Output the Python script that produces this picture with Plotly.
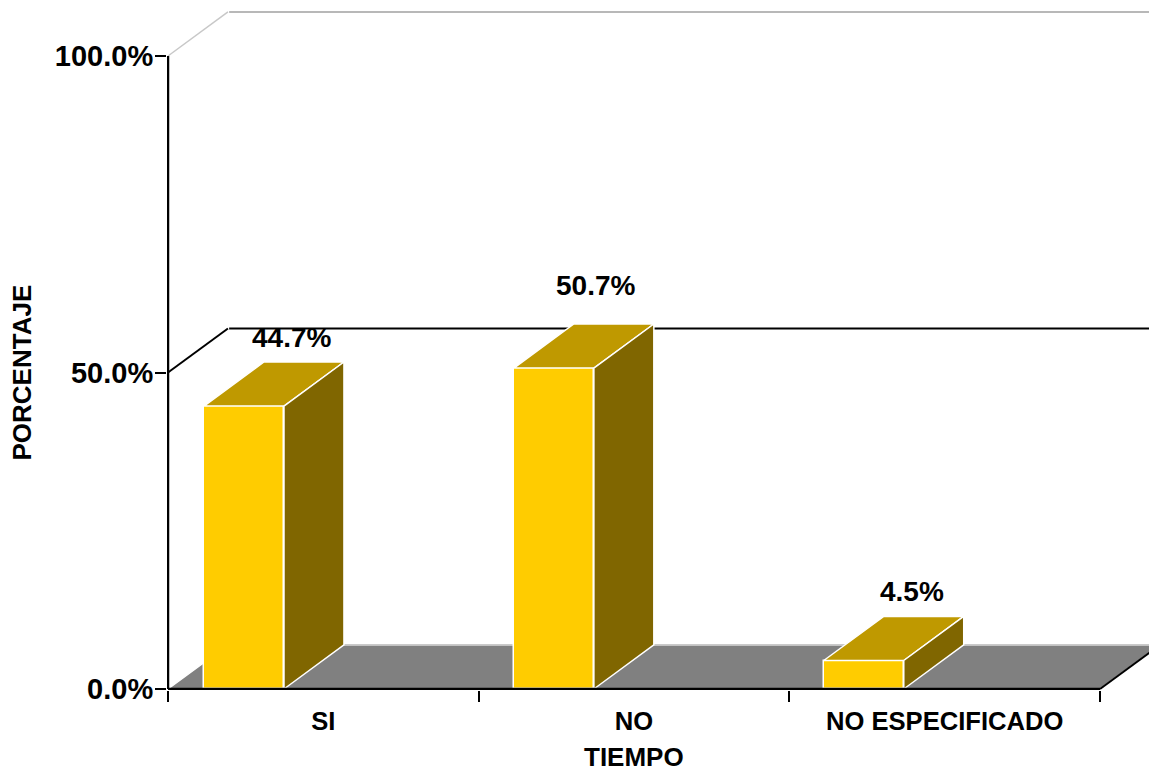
import plotly.graph_objects as go

categories = ["SI", "NO", "NO ESPECIFICADO"]
percentages = [44.7, 50.7, 4.5]
y_ticks = [0, 50, 100]
y_tick_labels = ["0.0%", "50.0%", "100.0%"]

# Pseudo-3D projection expressed in axis units
PX_PER_CATEGORY = 310.67
PX_PER_PERCENT = 6.33
DEPTH_X = 0.193
DEPTH_Y = 6.96
BAR_WIDTH = 0.2575
BAR_OFFSET = 0.2446
BAR_SPACING = 0.9975

FRONT = "#FFCC00"
TOP = "#BF9900"
SIDE = "#806600"
FLOOR = "#808080"
FONT = "Liberation Sans"

# The plot area starts one pixel past the axes so their strokes stay whole
X_RANGE = [-1 / PX_PER_CATEGORY, 981 / PX_PER_CATEGORY]
Y_RANGE = [-1 / PX_PER_PERCENT, 689 / PX_PER_PERCENT]
X_MAX = X_RANGE[1]

fig = go.Figure()


def polygon(xs, ys, color, zorder, line="white"):
    fig.add_trace(go.Scatter(
        x=xs + xs[:1], y=ys + ys[:1], mode="lines", fill="toself",
        fillcolor=color, line=dict(color=line, width=1.5),
        hoverinfo="skip", showlegend=False, zorder=zorder,
    ))


def segment(xs, ys, color, width, zorder):
    fig.add_trace(go.Scatter(
        x=xs, y=ys, mode="lines", line=dict(color=color, width=width),
        hoverinfo="skip", showlegend=False, zorder=zorder,
    ))


n = len(categories)

# Floor of the chart box
polygon([0, n, n + DEPTH_X, DEPTH_X], [0, 0, DEPTH_Y, DEPTH_Y], FLOOR, 0)
segment([DEPTH_X, X_MAX], [DEPTH_Y, DEPTH_Y], "#b8b8b8", 1.5, 1)

# Gridlines folded along the side wall and the back wall
segment([0, DEPTH_X], [100, 100 + DEPTH_Y], "#c8c8c8", 1.5, 0)
segment([DEPTH_X * 1.02, X_MAX], [100 + DEPTH_Y] * 2, "#b8b8b8", 2, 0)
segment([0, DEPTH_X], [50, 50 + DEPTH_Y], "black", 2, 0)
segment([DEPTH_X * 1.02, X_MAX], [50 + DEPTH_Y] * 2, "black", 2, 0)

# Front faces
centers = [i * BAR_SPACING + BAR_OFFSET for i in range(n)]
fig.add_trace(go.Bar(
    x=centers, y=percentages, width=BAR_WIDTH,
    marker=dict(color=FRONT, line=dict(color="white", width=1.5)),
    hoverinfo="skip", showlegend=False, zorder=2,
))

# Top and side faces of every bar
for c, v in zip(centers, percentages):
    l, r = c - BAR_WIDTH / 2, c + BAR_WIDTH / 2
    polygon([l, r, r + DEPTH_X, l + DEPTH_X], [v, v, v + DEPTH_Y, v + DEPTH_Y], TOP, 2)
    polygon([r, r + DEPTH_X, r + DEPTH_X, r], [0, DEPTH_Y, v + DEPTH_Y, v], SIDE, 2)

# Axis lines and the front-right floor edge
segment([0, 0], [0, 100], "black", 2.5, 3)
segment([0, n], [0, 0], "black", 2.5, 3)
segment([n, n + DEPTH_X], [0, DEPTH_Y], "black", 2, 3)

annotations = []
label_shifts = [18, 12, 18]
label_rises = [24, 39, 25]
for c, v, dx, rise in zip(centers, percentages, label_shifts, label_rises):
    annotations.append(dict(
        x=c + DEPTH_X / 2, y=v + DEPTH_Y, text=f"{v:.1f}%", showarrow=False,
        xshift=dx, yshift=rise, xanchor="center", yanchor="middle",
        font=dict(family=FONT, size=28, color="black", weight="bold"),
    ))
annotations.append(dict(
    x=n / 2, y=0, text="TIEMPO", showarrow=False, yshift=-68, borderpad=0,
    xanchor="center", yanchor="middle",
    font=dict(family=FONT, size=26, color="black", weight="bold"),
))
annotations.append(dict(
    x=0, y=50, text="PORCENTAJE", showarrow=False, xshift=-147, textangle=-90,
    xanchor="center", yanchor="middle",
    font=dict(family=FONT, size=26, color="black", weight="bold"),
))

fig.update_layout(
    width=1149, height=772,
    margin=dict(l=167, r=0, t=0, b=82),
    paper_bgcolor="white", plot_bgcolor="white",
    showlegend=False, annotations=annotations, bargap=0,
    xaxis=dict(
        range=X_RANGE, showgrid=False, zeroline=False, showline=False,
        tickmode="array", tickvals=[i + 0.5 for i in range(n)], ticktext=categories,
        ticks="outside", ticklen=8, tickcolor="rgba(0,0,0,0)",
        tickfont=dict(family=FONT, size=25.6, color="black", weight="bold"),
        minor=dict(tickmode="array", tickvals=list(range(n + 1)), ticks="outside",
                   ticklen=11, tickwidth=2, tickcolor="black", showgrid=False),
    ),
    yaxis=dict(
        range=Y_RANGE, showgrid=False, zeroline=False, showline=False,
        tickmode="array", tickvals=y_ticks, ticktext=y_tick_labels,
        ticks="outside", ticklen=11, tickwidth=2, tickcolor="black",
        ticklabelstandoff=-4,
        tickfont=dict(family=FONT, size=29, color="black", weight="bold"),
    ),
)

fig.write_html("out.html")
